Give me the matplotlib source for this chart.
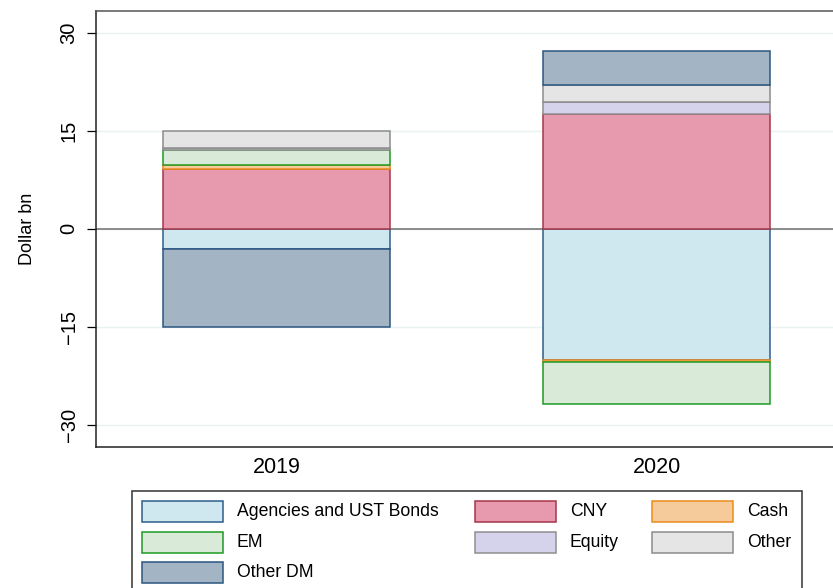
import numpy as np
import matplotlib
matplotlib.use("Agg")
import matplotlib.pyplot as plt
from matplotlib.patches import Rectangle

plt.rcParams['font.family'] = ['Liberation Sans', 'DejaVu Sans']

years = ['2019', '2020']
series = ['Agencies and UST Bonds', 'CNY', 'Cash', 'EM', 'Equity', 'Other', 'Other DM']

agencies = [-3.05, -20.15]
cny = [9.1, 17.5]
cash = [0.65, -0.25]
em = [2.3, -6.35]
equity = [0.35, 1.85]
other = [2.6, 2.65]
other_dm = [-11.95, 5.2]

values = [agencies, cny, cash, em, equity, other, other_dm]

fills = ['#cfe7ee', '#e79aad', '#f5cb9b', '#d9ead8', '#d5d2ec', '#e5e5e5', '#a3b4c4']
edges = ['#2e5e8c', '#a6364a', '#ee8c1c', '#1f9a22', '#8f8f8f', '#8c8c8c', '#2c5680']

fig = plt.figure(figsize=(8.33, 5.88), dpi=100)
W, H = 833, 588
ax = fig.add_axes([96 / W, 1 - 447 / H, (837 - 96) / W, (447 - 11) / H])

x = np.arange(len(years))
pos_base = np.zeros(len(years))
neg_base = np.zeros(len(years))
for vals, fc, ec in zip(values, fills, edges):
    v = np.array(vals, dtype=float)
    base = np.where(v >= 0, pos_base, neg_base)
    ax.bar(x, v, bottom=base, width=0.597, color=fc, edgecolor=ec, linewidth=1.1, zorder=3)
    pos_base += np.where(v >= 0, v, 0)
    neg_base += np.where(v < 0, v, 0)

ax.set_xlim(-0.475, 1.475)
ax.set_ylim(-33.4, 33.3)
ax.set_yticks([-30, -15, 0, 15, 30])
ax.set_yticklabels(['\u221230', '\u221215', '0', '15', '30'], rotation=90, va='center')
ax.set_xticks(x)
ax.set_xticklabels(years)
ax.tick_params(axis='y', labelsize=14.5, length=6.5, width=0.9, direction='out', pad=6)
ax.tick_params(axis='x', labelsize=15.5, length=0, pad=7.5)
ax.yaxis.grid(True, color='#eaf2f3', linewidth=1.0, zorder=0)
ax.set_axisbelow(True)
ax.axhline(0, color='#6e6e6e', linewidth=1.1, zorder=2)
for s in ['left', 'bottom', 'top']:
    ax.spines[s].set_linewidth(1.1)
    ax.spines[s].set_color('#222222')
ax.spines['top'].set_color('#555555')
ax.spines['right'].set_visible(False)
ax.set_ylabel('Dollar bn', fontsize=13, labelpad=17)

# legend drawn in figure pixel space
lax = fig.add_axes([0, 0, 1, 1], zorder=5)
lax.set_xlim(0, W)
lax.set_ylim(H, 0)
lax.axis('off')
lax.add_patch(Rectangle((132, 491), 802 - 132, 120, facecolor='white', edgecolor='#333333',
                        linewidth=1.1, clip_on=False))
col_x = [142, 475, 652]
row_y = [501, 532, 562]
order = [(0, 0, 0), (1, 1, 0), (2, 2, 0), (3, 0, 1), (4, 1, 1), (5, 2, 1), (6, 0, 2)]
for i, c, r in order:
    lax.add_patch(Rectangle((col_x[c], row_y[r]), 81, 21, facecolor=fills[i], edgecolor=edges[i],
                            linewidth=1.1))
    lax.text(col_x[c] + 95, row_y[r] + 10.5, series[i], fontsize=12.7, va='center', ha='left')

fig.savefig('out.png', dpi=100)
